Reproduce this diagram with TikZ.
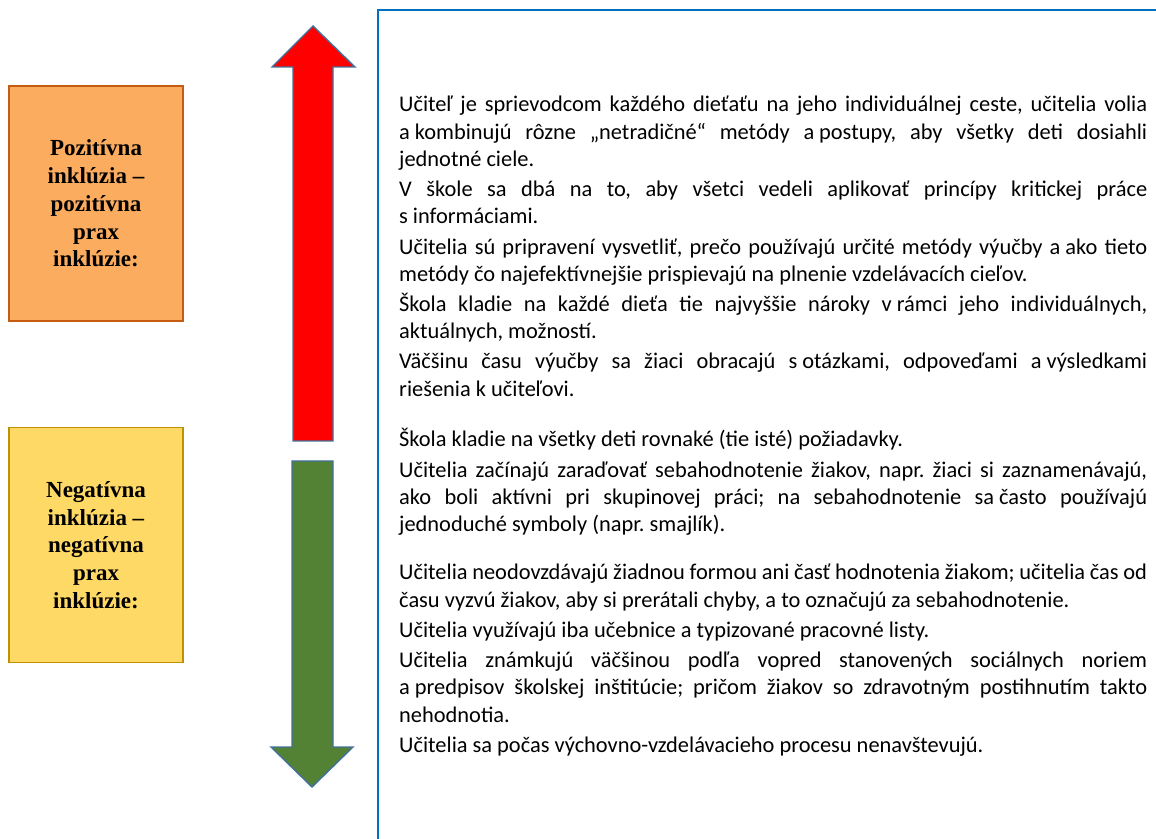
\documentclass[tikz,border=0pt]{standalone}
\usepackage{fontspec}
\setmainfont{Carlito}
\newfontfamily\labelfont{Liberation Serif}
\newcommand\nbs{\nobreak\hskip 0.22em\relax}
\definecolor{orfill}{RGB}{251,172,94}
\definecolor{ordraw}{RGB}{197,90,17}
\definecolor{yefill}{RGB}{255,217,102}
\definecolor{yedraw}{RGB}{191,144,0}
\definecolor{arrdraw}{RGB}{65,113,156}
\definecolor{arrred}{RGB}{255,0,0}
\definecolor{arrgreen}{RGB}{84,130,53}
\definecolor{boxblue}{RGB}{0,112,192}
\tikzset{
  labelbox/.style={draw, line width=1.6pt, minimum width=174pt, minimum height=235pt,
    inner sep=0pt, align=center, text=black,
    font={\labelfont\bfseries\fontsize{23}{27.7}\selectfont}},
  para/.style={anchor=base west, inner sep=0pt, text width=748pt, align=justify,
    font={\fontsize{22.4}{27.3}\selectfont\frenchspacing\tolerance=9999\emergencystretch=2em\hyphenpenalty=10000\exhyphenpenalty=10000}},
  bigarrow/.style={draw=arrdraw, line width=1.4pt, line join=miter}
}
\begin{document}
\begin{tikzpicture}[x=1pt,y=1pt]
\useasboundingbox (0,0) rectangle (1156,838);
% left label boxes
\node[labelbox, fill=orfill, draw=ordraw] (pos) at (96,634.5)
  {Pozitívna\\inklúzia –\\pozitívna\\prax\\inklúzie:};
\node[labelbox, fill=yefill, draw=yedraw] (neg) at (96,293)
  {Negatívna\\inklúzia –\\negatívna\\prax\\inklúzie:};
% arrows
\fill[arrred] (313,812) -- (355,771) -- (333,771) -- (333,397) -- (293,397) -- (293,771) -- (272,771) -- cycle;
\draw[bigarrow] (313,812) -- (355,771) -- (333,771) -- (333,397) -- (293,397) -- (293,771) -- (272,771) -- cycle;
\fill[arrgreen] (292,377) -- (333,377) -- (333,91) -- (353,91) -- (312,51) -- (271,91) -- (292,91) -- cycle;
\draw[bigarrow] (292,377) -- (333,377) -- (333,91) -- (353,91) -- (312,51) -- (271,91) -- (292,91) -- cycle;
% blue frame
\draw[boxblue, line width=2pt] (378,-2) -- (378,828) -- (1160,828);
% texts
\node[para] (p1) at (399,726) {Učiteľ je sprievodcom každého dieťaťu na jeho individuálnej ceste, učitelia volia\linebreak a\nbs kombinujú rôzne „netradičné“ metódy a\nbs postupy, aby všetky deti dosiahli\linebreak jednotné ciele.};
\node[para] (p2) at (399,641.3) {V škole sa dbá na to, aby všetci vedeli aplikovať princípy kritickej práce\linebreak s\nbs informáciami.};
\node[para] (p3) at (399,583.9) {Učitelia sú pripravení vysvetliť, prečo používajú určité metódy výučby a\nbs ako tieto\linebreak metódy čo najefektívnejšie prispievajú na plnenie vzdelávacích cieľov.};
\node[para] (p4) at (399,526.5) {Škola kladie na každé dieťa tie najvyššie nároky v\nbs rámci jeho individuálnych,\linebreak aktuálnych, možností.};
\node[para] (p5) at (399,469.1) {Väčšinu času výučby sa žiaci obracajú s\nbs otázkami, odpoveďami a\nbs výsledkami\linebreak riešenia k~učiteľovi.};
\node[para] (p6) at (399,391) {Škola kladie na všetky deti rovnaké (tie isté) požiadavky.};
\node[para] (p7) at (399,360.9) {Učitelia začínajú zaraďovať sebahodnotenie žiakov, napr. žiaci si zaznamenávajú,\linebreak ako boli aktívni pri skupinovej práci; na sebahodnotenie sa\nbs často používajú\linebreak jednoduché symboly (napr. smajlík).};
\node[para] (p8) at (399,258) {Učitelia neodovzdávajú žiadnou formou ani časť hodnotenia žiakom; učitelia čas od\linebreak času vyzvú žiakov, aby si prerátali chyby, a to označujú za sebahodnotenie.};
\node[para] (p9) at (399,200.6) {Učitelia využívajú iba učebnice a typizované pracovné listy.};
\node[para] (p10) at (399,170.5) {Učitelia známkujú väčšinou podľa vopred stanovených sociálnych noriem\linebreak a\nbs predpisov školskej inštitúcie; pričom žiakov so zdravotným postihnutím takto\linebreak nehodnotia.};
\node[para] (p11) at (399,85.8) {Učitelia sa počas výchovno-vzdelávacieho procesu nenavštevujú.};
\end{tikzpicture}
\end{document}
